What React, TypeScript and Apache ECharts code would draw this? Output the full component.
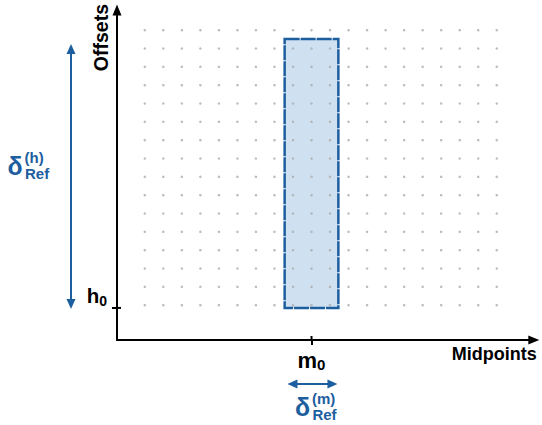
import { useEffect, useRef } from "react";
import * as echarts from "echarts";

// ---- data (in "dot-grid" units) ----
const xAxisRange = [0, 22.5];
const yAxisRange = [0, 18];
const dotXs = [1.5, 2.5, 3.5, 4.5, 5.5, 6.5, 7.5, 8.5, 9.5, 10.5, 11.5, 12.5, 13.5, 14.5, 15.5, 16.5, 17.5, 18.5, 19.5, 20.5];
const dotYs = [1.9, 2.9, 3.9, 4.9, 5.9, 6.9, 7.9, 8.9, 9.9, 10.9, 11.9, 12.9, 13.9, 14.9, 15.9, 16.9];
const h0 = 1.75;
const m0 = 10.5;
const refBoxX = [9.05, 11.95];
const refBoxY = [1.75, 16.42];
const deltaHArrow = [1.75, 16.15];
const deltaMArrow = [9.2, 11.9];
const axisNames = { x: "Midpoints", y: "Offsets" };
const deltaLabels = { h: "(h)", m: "(m)", sub: "Ref", sym: "δ" };

const FONT = "'Liberation Sans', Arial, sans-serif";
const BLUE = "#1d5e9f";
const FILL = "#cfe0f0";

function arrowShapes(x1: number, y1: number, x2: number, y2: number) {
  const len = 10;
  const hw = 4.5;
  const dx = x2 - x1;
  const dy = y2 - y1;
  const L = Math.sqrt(dx * dx + dy * dy);
  const ux = dx / L;
  const uy = dy / L;
  const px = -uy;
  const py = ux;
  const head = (tx: number, ty: number, sx: number, sy: number) => ({
    type: "polygon",
    shape: {
      points: [
        [tx, ty],
        [tx - sx * len + px * hw, ty - sy * len + py * hw],
        [tx - sx * len - px * hw, ty - sy * len - py * hw],
      ],
    },
    style: { fill: BLUE },
  });
  return [
    {
      type: "line",
      shape: { x1: x1 + ux * (len - 1), y1: y1 + uy * (len - 1), x2: x2 - ux * (len - 1), y2: y2 - uy * (len - 1) },
      style: { stroke: BLUE, lineWidth: 2 },
    },
    head(x2, y2, ux, uy),
    head(x1, y1, -ux, -uy),
  ];
}

function deltaLabel(left: number, middle: number, sup: string) {
  return [
    {
      type: "text",
      x: left,
      y: middle,
      style: { text: deltaLabels.sym, fill: BLUE, font: `bold 25px ${FONT}`, align: "left", verticalAlign: "middle" },
    },
    {
      type: "text",
      x: left + 17,
      y: middle - 9,
      style: { text: sup, fill: BLUE, font: `bold 15px ${FONT}`, align: "left", verticalAlign: "middle" },
    },
    {
      type: "text",
      x: left + 17.5,
      y: middle + 7.5,
      style: { text: deltaLabels.sub, fill: BLUE, font: `bold 15px ${FONT}`, align: "left", verticalAlign: "middle" },
    },
  ];
}

export default function App() {
  const ref = useRef<HTMLDivElement>(null);

  useEffect(() => {
    if (!ref.current) return;
    const chart = echarts.init(ref.current, undefined, { renderer: "svg" });

    const dots: number[][] = [];
    dotXs.forEach((x) => dotYs.forEach((y) => dots.push([x, y])));

    const subRich = (size: number, subSize: number) => ({
      a: { fontSize: size, fontWeight: "bold", fontFamily: FONT, color: "#000", lineHeight: 24 },
      b: { fontSize: subSize, fontWeight: "bold", fontFamily: FONT, color: "#000", lineHeight: 14, verticalAlign: "bottom" },
    });

    const option: any = {
      animation: false,
      grid: { left: 117, right: 8.2, top: 10, bottom: 85, containLabel: false, outerBoundsMode: "none" },
      xAxis: {
        type: "value",
        min: xAxisRange[0],
        max: xAxisRange[1],
        name: axisNames.x,
        nameLocation: "end",
        nameGap: 3,
        nameTextStyle: {
          fontSize: 18,
          fontWeight: "bold",
          fontFamily: FONT,
          color: "#000",
          align: "right",
          verticalAlign: "top",
          padding: [5, 0, 0, 0],
        },
        axisLine: {
          show: true,
          onZero: false,
          symbol: ["none", "triangle"],
          symbolSize: [9, 11],
          lineStyle: { color: "#000", width: 2 },
        },
        axisTick: { show: true, customValues: [m0], length: 5, lineStyle: { color: "#000", width: 2 } },
        axisLabel: {
          show: true,
          customValues: [m0],
          margin: 8,
          formatter: () => "{a|m}{b|0}",
          rich: subRich(22, 15),
        },
        splitLine: { show: false },
      },
      yAxis: {
        type: "value",
        min: yAxisRange[0],
        max: yAxisRange[1],
        name: axisNames.y,
        nameLocation: "end",
        nameRotate: 90,
        nameGap: 6,
        nameTextStyle: {
          fontSize: 19.5,
          fontWeight: "bold",
          fontFamily: FONT,
          color: "#000",
          align: "right",
          verticalAlign: "bottom",
          padding: [0, 0, 6, 0],
        },
        axisLine: {
          show: true,
          onZero: false,
          symbol: ["none", "triangle"],
          symbolSize: [9, 11],
          lineStyle: { color: "#000", width: 2 },
        },
        axisTick: { show: true, customValues: [h0], length: 5, lineStyle: { color: "#000", width: 2 } },
        axisLabel: {
          show: true,
          customValues: [h0],
          margin: 10,
          align: "right",
          verticalAlign: "bottom",
          formatter: () => "{a|h}{b|0}",
          rich: subRich(20.5, 14),
        },
        splitLine: { show: false },
      },
      series: [
        {
          type: "custom",
          name: "reference box",
          z: 1,
          clip: false,
          silent: true,
          data: [[refBoxX[0], refBoxY[0], refBoxX[1], refBoxY[1]]],
          renderItem: (_p: any, api: any) => {
            const p0 = api.coord([api.value(0), api.value(1)]);
            const p1 = api.coord([api.value(2), api.value(3)]);
            return {
              type: "rect",
              shape: { x: p0[0], y: p1[1], width: p1[0] - p0[0], height: p0[1] - p1[1] },
              style: { fill: FILL, stroke: BLUE, lineWidth: 2.5, lineDash: [15, 1] },
            };
          },
        },
        {
          type: "scatter",
          name: "grid",
          z: 2,
          silent: true,
          symbolSize: 2.5,
          itemStyle: { color: "#ababab" },
          data: dots,
        },
        {
          type: "custom",
          name: "inner ticks",
          z: 3,
          clip: false,
          silent: true,
          data: [[m0, 0, 0], [0, h0, 1]],
          encode: { x: 0, y: 1 },
          renderItem: (_p: any, api: any) => {
            const p = api.coord([api.value(0), api.value(1)]);
            const vertical = api.value(2) === 0;
            return {
              type: "line",
              shape: vertical
                ? { x1: p[0], y1: p[1], x2: p[0], y2: p[1] - 4 }
                : { x1: p[0], y1: p[1], x2: p[0] + 4, y2: p[1] },
              style: { stroke: "#000", lineWidth: 2 },
            };
          },
        },
        {
          type: "custom",
          name: "delta h",
          z: 3,
          clip: false,
          silent: true,
          data: [[0, deltaHArrow[0], deltaHArrow[1]]],
          encode: { x: 0, y: 1 },
          renderItem: (_p: any, api: any) => {
            const a = api.coord([api.value(0), api.value(1)]);
            const b = api.coord([api.value(0), api.value(2)]);
            const x = a[0] - 46;
            const mid = (a[1] + b[1]) / 2;
            return {
              type: "group",
              children: [...arrowShapes(x, b[1], x, a[1] + 1), ...deltaLabel(x - 63.5, mid - 9.5, deltaLabels.h)],
            };
          },
        },
        {
          type: "custom",
          name: "delta m",
          z: 3,
          clip: false,
          silent: true,
          data: [[deltaMArrow[0], deltaMArrow[1], 0]],
          encode: { x: 0, y: 2 },
          renderItem: (_p: any, api: any) => {
            const a = api.coord([api.value(0), api.value(2)]);
            const b = api.coord([api.value(1), api.value(2)]);
            const y = a[1] + 44;
            const mid = (a[0] + b[0]) / 2;
            return {
              type: "group",
              children: [...arrowShapes(a[0], y, b[0], y), ...deltaLabel(mid - 17.5, y + 23, deltaLabels.m)],
            };
          },
        },
      ],
    };

    chart.setOption(option);
    return () => chart.dispose();
  }, []);

  return <div ref={ref} style={{ width: 542, height: 425, position: "absolute", left: 0, top: 0 }} />;
}
